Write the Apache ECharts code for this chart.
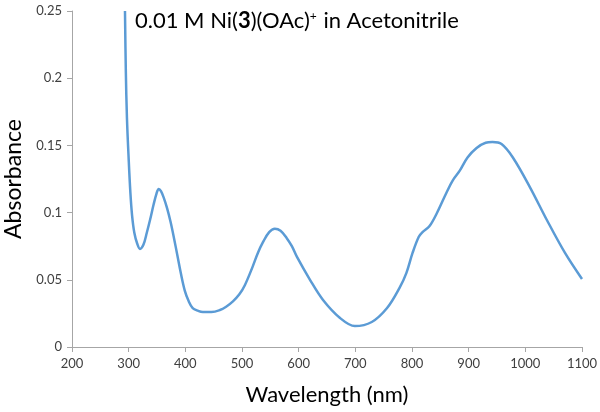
<!DOCTYPE html>
<html>
<head>
<meta charset="utf-8">
<script src="https://cdn.jsdelivr.net/npm/echarts@6/dist/echarts.min.js"></script>
<style>html,body{margin:0;padding:0;background:#fff}#c{width:600px;height:412px}</style>
</head>
<body>
<div id="c"></div>
<script>
var wavelengths = [293.5, 295, 297, 300, 303, 306, 310, 315, 320, 326, 332, 338, 344, 349, 353, 357, 362, 368, 374, 380, 386, 392, 399, 406, 413, 422, 431, 446, 461, 472, 484, 495, 505, 519, 528, 537, 548, 558, 568, 579, 588, 597, 620, 643, 673, 699, 729, 756, 778, 790, 801, 812, 819, 831, 844, 861, 872, 884, 898, 914, 930, 942, 958, 978, 1008, 1038, 1070, 1100];
var absorbance = [0.25, 0.205, 0.17, 0.14, 0.115, 0.098, 0.085, 0.077, 0.073, 0.076, 0.085, 0.095, 0.106, 0.114, 0.1176, 0.116, 0.111, 0.103, 0.093, 0.081, 0.068, 0.055, 0.042, 0.034, 0.029, 0.027, 0.026, 0.026, 0.0275, 0.030, 0.034, 0.039, 0.046, 0.060, 0.070, 0.078, 0.0855, 0.088, 0.0865, 0.081, 0.075, 0.067, 0.050, 0.035, 0.0216, 0.0156, 0.0186, 0.029, 0.044, 0.055, 0.070, 0.082, 0.0856, 0.090, 0.0997, 0.115, 0.124, 0.131, 0.141, 0.148, 0.152, 0.1525, 0.151, 0.141, 0.119, 0.0945, 0.070, 0.0506];
var xTicks = [200, 300, 400, 500, 600, 700, 800, 900, 1000, 1100];
var yTicks = [0, 0.05, 0.1, 0.15, 0.2, 0.25];

var pts = wavelengths.map(function (w, i) { return [w, absorbance[i]]; });
var chart = echarts.init(document.getElementById('c'), null, {renderer: 'canvas'});
var fam = 'Lato, "Open Sans", sans-serif';
chart.setOption({
  animation: false,
  backgroundColor: '#ffffff',
  title: {
    text: '0.01 M Ni({b|3})(OAc){s|+} in Acetonitrile',
    left: 130, top: 5,
    textStyle: {
      fontFamily: fam, fontSize: 22, fontWeight: 'normal', color: '#000',
      rich: {
        b: {fontFamily: fam, fontSize: 22, fontWeight: 'bold', color: '#000'},
        s: {fontFamily: fam, fontSize: 12, color: '#000', padding: [0, 1, 10, 0]}
      }
    }
  },
  grid: {left: 72, right: 18, top: 11, bottom: 65, containLabel: false, outerBoundsMode: 'none'},
  xAxis: {
    type: 'value', min: xTicks[0], max: xTicks[xTicks.length - 1], interval: 100,
    name: 'Wavelength (nm)', nameLocation: 'middle', nameGap: 37,
    nameTextStyle: {fontFamily: fam, fontSize: 22, color: '#000'},
    axisLine: {show: true, lineStyle: {color: '#a6a6a6', width: 1}},
    axisTick: {show: true, inside: false, length: 5, lineStyle: {color: '#a6a6a6'}},
    axisLabel: {fontFamily: fam, fontSize: 13, color: '#404040', margin: 10,
      formatter: function (v) { return String(v); }},
    splitLine: {show: false}
  },
  yAxis: {
    type: 'value', min: yTicks[0], max: yTicks[yTicks.length - 1], interval: 0.05,
    name: 'Absorbance', nameLocation: 'middle', nameGap: 44, nameRotate: 90,
    nameTextStyle: {fontFamily: fam, fontSize: 23, color: '#000'},
    axisLine: {show: true, lineStyle: {color: '#a6a6a6', width: 1}},
    axisTick: {show: true, inside: false, length: 5, lineStyle: {color: '#a6a6a6'}},
    axisLabel: {fontFamily: fam, fontSize: 13, color: '#404040', margin: 10,
      formatter: function (v) { return String(+v.toFixed(2)); }},
    splitLine: {show: false}
  },
  series: [{
    type: 'line', data: pts, smooth: 0.35, showSymbol: false, clip: true,
    lineStyle: {color: '#5b9bd5', width: 2.5}
  }]
});
</script>
</body>
</html>
